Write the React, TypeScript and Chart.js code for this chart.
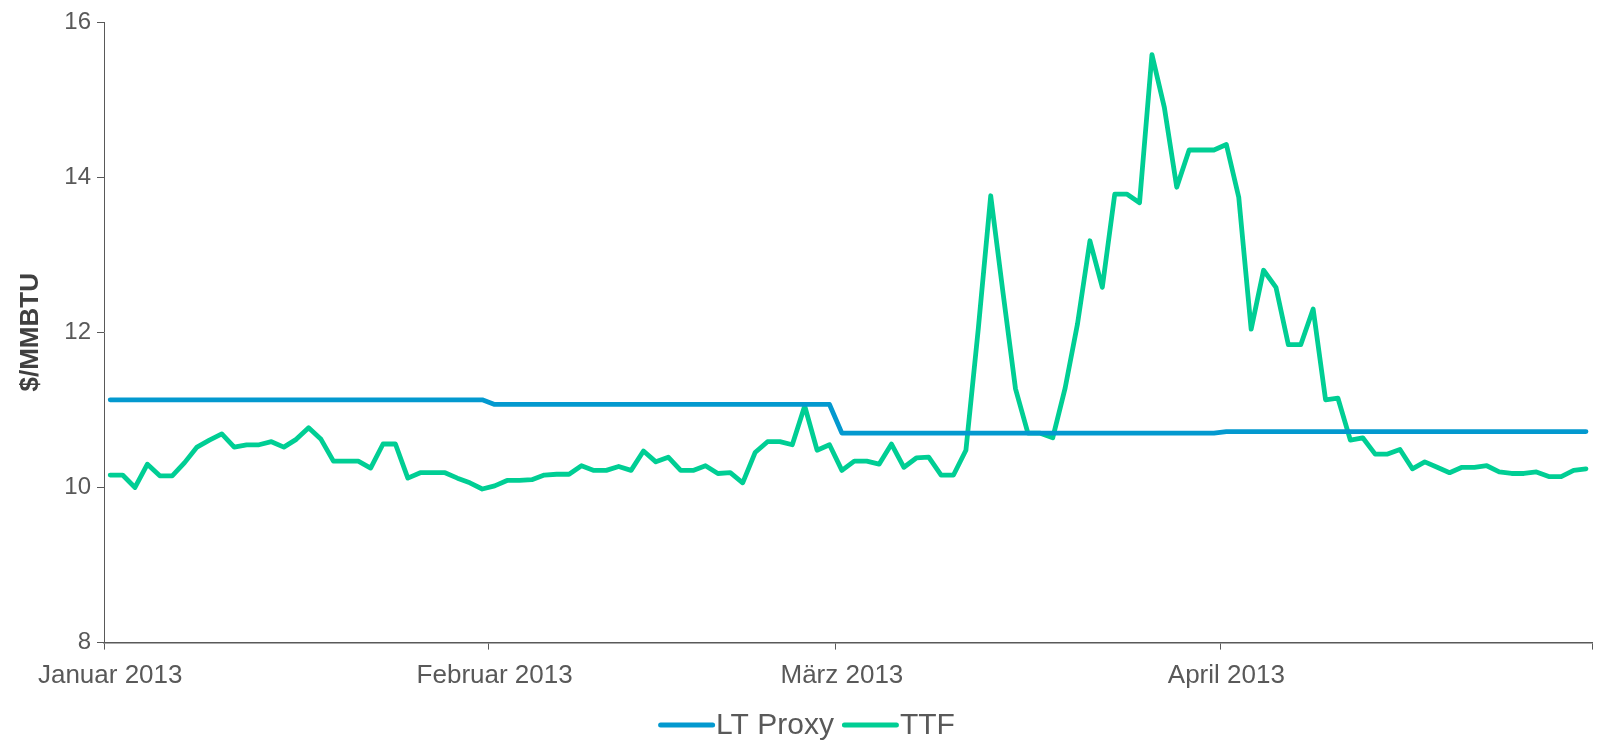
import React, { useEffect, useRef } from "react";
import { Chart, registerables } from "chart.js";

Chart.register(...registerables);

// ---------- data ----------
const FIRST_DAY = "2013-01-01";
const DAY_COUNT = 120; // 1 Jan 2013 .. 30 Apr 2013 (daily)
const monthNames = ["Januar", "Februar", "März", "April", "Mai"];

const categories: string[] = Array.from({ length: DAY_COUNT }, (_, i) => {
  const d = new Date(FIRST_DAY + "T00:00:00Z");
  d.setUTCDate(d.getUTCDate() + i);
  return d.toISOString().slice(0, 10);
});

const ltProxy: number[] = [
  // Januar
  11.13, 11.13, 11.13, 11.13, 11.13, 11.13, 11.13, 11.13, 11.13, 11.13,
  11.13, 11.13, 11.13, 11.13, 11.13, 11.13, 11.13, 11.13, 11.13, 11.13,
  11.13, 11.13, 11.13, 11.13, 11.13, 11.13, 11.13, 11.13, 11.13, 11.13,
  11.13,
  // Februar
  11.07, 11.07, 11.07, 11.07, 11.07, 11.07, 11.07, 11.07, 11.07, 11.07,
  11.07, 11.07, 11.07, 11.07, 11.07, 11.07, 11.07, 11.07, 11.07, 11.07,
  11.07, 11.07, 11.07, 11.07, 11.07, 11.07, 11.07, 11.07,
  // März
  10.70, 10.70, 10.70, 10.70, 10.70, 10.70, 10.70, 10.70, 10.70, 10.70,
  10.70, 10.70, 10.70, 10.70, 10.70, 10.70, 10.70, 10.70, 10.70, 10.70,
  10.70, 10.70, 10.70, 10.70, 10.70, 10.70, 10.70, 10.70, 10.70, 10.70,
  10.70,
  // April
  10.72, 10.72, 10.72, 10.72, 10.72, 10.72, 10.72, 10.72, 10.72, 10.72,
  10.72, 10.72, 10.72, 10.72, 10.72, 10.72, 10.72, 10.72, 10.72, 10.72,
  10.72, 10.72, 10.72, 10.72, 10.72, 10.72, 10.72, 10.72, 10.72, 10.72,
];

const ttf: number[] = [
  // Januar
  10.16, 10.16, 10.0, 10.3, 10.15, 10.15, 10.32, 10.52, 10.61, 10.69,
  10.52, 10.55, 10.55, 10.59, 10.52, 10.62, 10.77, 10.62, 10.34, 10.34,
  10.34, 10.25, 10.56, 10.56, 10.12, 10.19, 10.19, 10.19, 10.12, 10.06,
  9.98,
  // Februar
  10.02, 10.09, 10.09, 10.1, 10.16, 10.17, 10.17, 10.28, 10.22, 10.22,
  10.27, 10.22, 10.47, 10.33, 10.39, 10.22, 10.22, 10.28, 10.18, 10.19,
  10.06, 10.45, 10.59, 10.59, 10.55, 11.05, 10.48, 10.55,
  // März
  10.22, 10.34, 10.34, 10.3, 10.56, 10.26, 10.38, 10.39, 10.16, 10.16,
  10.48, 12.05, 13.76, 12.5, 11.27, 10.7, 10.7, 10.64, 11.28, 12.11,
  13.18, 12.58, 13.78, 13.78, 13.67, 15.58, 14.9, 13.87, 14.35, 14.35,
  14.35,
  // April
  14.42, 13.74, 12.04, 12.8, 12.58, 11.84, 11.84, 12.3, 11.13, 11.15,
  10.61, 10.64, 10.43, 10.43, 10.49, 10.24, 10.33, 10.26, 10.19, 10.26,
  10.26, 10.28, 10.2, 10.18, 10.18, 10.2, 10.14, 10.14, 10.22, 10.24,
];

const yTicks = { min: 8, max: 16, step: 2 };
const yTitle = "$/MMBTU";
const seriesNames = ["LT Proxy", "TTF"];
const seriesColors = ["#0399CF", "#00CE94"];

// ---------- styling ----------
const FONT = '"Liberation Sans", Arial, Helvetica, sans-serif';
const TEXT = "#595959";
const AXIS = "#595959";
const LEGEND_FONT = 30;

const isMonthStart = (i: number) =>
  i >= 0 && i < categories.length && categories[i].endsWith("-01");

const bottomLegend = {
  id: "bottomLegend",
  afterDraw(chart: any) {
    const ctx = chart.ctx as CanvasRenderingContext2D;
    const sample = 57;
    const gap = 1;
    const itemGap = 8;
    ctx.save();
    ctx.font = `${LEGEND_FONT}px ${FONT}`;
    const items = chart.data.datasets.map((ds: any) => ({
      text: ds.label as string,
      color: ds.borderColor as string,
      w: ctx.measureText(ds.label).width,
    }));
    const total =
      items.reduce((s: number, it: any) => s + sample + gap + it.w, 0) +
      itemGap * (items.length - 1);
    let x = chart.width / 2 + 8 - total / 2;
    const y = 725;
    ctx.textBaseline = "middle";
    ctx.textAlign = "left";
    for (const it of items) {
      ctx.strokeStyle = it.color;
      ctx.lineWidth = 5;
      ctx.lineCap = "round";
      ctx.beginPath();
      ctx.moveTo(x + 2.5, y);
      ctx.lineTo(x + sample - 2.5, y);
      ctx.stroke();
      x += sample + gap;
      ctx.fillStyle = TEXT;
      ctx.fillText(it.text, x, y + 1);
      x += it.w + itemGap;
    }
    ctx.restore();
  },
};

export default function App() {
  const canvasRef = useRef<HTMLCanvasElement | null>(null);

  useEffect(() => {
    if (!canvasRef.current) return;
    const chart = new Chart(canvasRef.current, {
      type: "line",
      data: {
        labels: categories,
        datasets: [
          {
            label: seriesNames[0],
            data: ltProxy,
            borderColor: seriesColors[0],
            backgroundColor: seriesColors[0],
            borderWidth: 4.8,
            pointRadius: 0,
            tension: 0,
            borderCapStyle: "round",
            borderJoinStyle: "round",
          },
          {
            label: seriesNames[1],
            data: ttf,
            borderColor: seriesColors[1],
            backgroundColor: seriesColors[1],
            borderWidth: 4.8,
            pointRadius: 0,
            tension: 0,
            borderCapStyle: "round",
            borderJoinStyle: "round",
          },
        ],
      },
      options: {
        animation: false,
        responsive: false,
        devicePixelRatio: 1,
        layout: { padding: { top: 22, right: 1, left: 0, bottom: 0 } },
        plugins: {
          legend: { display: false },
          tooltip: { enabled: false },
        },
        scales: {
          x: {
            type: "category",
            offset: true,
            grid: {
              offset: true,
              drawOnChartArea: false,
              drawTicks: true,
              tickLength: 7,
              tickWidth: 1,
              tickColor: (ctx: any) =>
                ctx.type === "tick" && !isMonthStart(ctx.index)
                  ? "rgba(0,0,0,0)"
                  : AXIS,
            },
            border: { display: true, color: AXIS, width: 1.5 },
            ticks: {
              autoSkip: false,
              maxRotation: 0,
              minRotation: 0,
              padding: 11,
              color: TEXT,
              font: { family: FONT, size: 26 },
              callback: (_v: any, index: number) => {
                const lab = categories[index];
                if (!lab || !lab.endsWith("-01")) return "";
                const m = parseInt(lab.slice(5, 7), 10) - 1;
                return `${monthNames[m]} ${lab.slice(0, 4)}`;
              },
            },
            afterFit: (scale: any) => {
              scale.height = 97.4;
            },
          },
          y: {
            min: yTicks.min,
            max: yTicks.max,
            grid: {
              drawOnChartArea: false,
              drawTicks: true,
              tickLength: 7,
              tickColor: AXIS,
            },
            border: { display: true, color: AXIS, width: 1 },
            ticks: {
              stepSize: yTicks.step,
              padding: 6,
              color: TEXT,
              font: { family: FONT, size: 24 },
            },
            title: {
              display: true,
              text: yTitle,
              color: "#404040",
              font: { family: FONT, size: 26, weight: "bold" },
              padding: { top: 15, bottom: 0 },
            },
            afterFit: (scale: any) => {
              scale.width = 104;
            },
          },
        },
      },
      plugins: [bottomLegend],
    } as any);
    return () => chart.destroy();
  }, []);

  return (
    <div
      style={{
        position: "fixed",
        left: 0,
        top: 0,
        width: 1597,
        height: 740,
        background: "#ffffff",
      }}
    >
      <canvas
        ref={canvasRef}
        width={1597}
        height={740}
        style={{ display: "block", width: 1597, height: 740 }}
      />
    </div>
  );
}
